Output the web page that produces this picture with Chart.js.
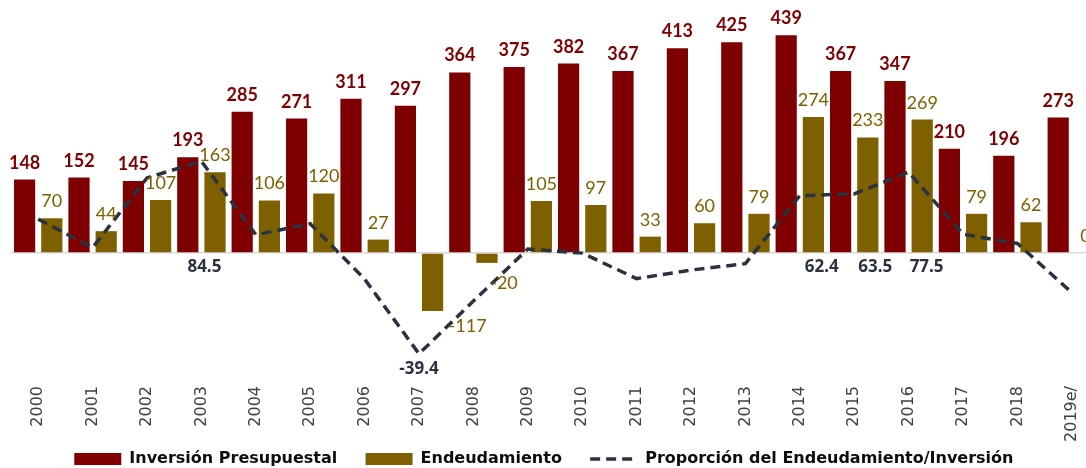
<!DOCTYPE html>
<html>
<head>
<meta charset="utf-8">
<script src="https://cdn.jsdelivr.net/npm/chart.js@4.4.1/dist/chart.umd.min.js"></script>
<style>
  html, body { margin: 0; padding: 0; background: #ffffff; overflow: hidden; }
  #wrap { position: relative; width: 1110px; height: 477px; }
</style>
</head>
<body>
<div id="wrap"><canvas id="c"></canvas></div>
<script>
const categories = ['2000','2001','2002','2003','2004','2005','2006','2007','2008','2009','2010','2011','2012','2013','2014','2015','2016','2017','2018','2019e/'];
const inversion = [148,152,145,193,285,271,311,297,364,375,382,367,413,425,439,367,347,210,196,273];
const endeudamiento = [70,44,107,163,106,120,27,-117,-20,105,97,33,60,79,274,233,269,79,62,0];
const proporcion = [47.3,28.9,73.8,84.5,37.2,44.3,8.7,-39.4,-5.5,28.0,25.4,9.0,14.5,18.6,62.4,63.5,77.5,37.6,31.6,0.0];
const proporcionShown = [3,7,14,15,16];
const seriesNames = ['Inversión Presupuestal', 'Endeudamiento', 'Proporción del Endeudamiento/Inversión'];

const RED = '#7f0000';
const OLIVE = '#7f6000';
const LINE = '#2a3240';

const labelPlugin = {
  id: 'valueLabels',
  afterDatasetsDraw(chart, args, opts) {
    const ctx = chart.ctx;
    const zeroY = chart.scales.y.getPixelForValue(0);
    ctx.save();
    [0, 1].forEach(di => {
      const meta = chart.getDatasetMeta(di);
      const ds = chart.data.datasets[di];
      ctx.font = opts.barFonts[di];
      ctx.fillStyle = ds.backgroundColor;
      ctx.textAlign = 'center';
      ctx.textBaseline = 'alphabetic';
      meta.data.forEach((bar, i) => {
        const v = ds.data[i];
        const off = (opts.barOffsets[di] && opts.barOffsets[di][i]) || [0, 0];
        const y = v >= 0 ? bar.y - 11 + off[1] : bar.y + 24 + off[1];
        ctx.fillText(String(v), bar.x + off[0], y);
      });
    });
    const lm = chart.getDatasetMeta(2);
    const lds = chart.data.datasets[2];
    ctx.font = opts.lineFont;
    ctx.fillStyle = LINE;
    ctx.textBaseline = 'middle';
    proporcionShown.forEach(i => {
      const pt = lm.data[i];
      const v = lds.data[i];
      const dx = opts.lineDx[i] || 0;
      const y = v >= 0 ? zeroY + 14 : pt.y + 15;
      ctx.fillText(v.toFixed(1), pt.x + dx, y);
    });
    ctx.restore();
  }
};

new Chart(document.getElementById('c'), {
  data: {
    labels: categories,
    datasets: [
      { type: 'bar', label: seriesNames[0], data: inversion, backgroundColor: RED, borderWidth: 0, order: 2, yAxisID: 'y' },
      { type: 'bar', label: seriesNames[1], data: endeudamiento, backgroundColor: OLIVE, borderWidth: 0, order: 3, yAxisID: 'y' },
      { type: 'line', label: seriesNames[2], data: proporcion, borderColor: LINE, backgroundColor: 'transparent', borderWidth: 3.5, borderDash: [10, 6], pointRadius: 0, tension: 0, order: 0, yAxisID: 'y2' }
    ]
  },
  options: {
    responsive: true,
    maintainAspectRatio: false,
    animation: false,
    layout: { padding: { left: 11, right: 11, top: 0, bottom: 0 } },
    datasets: { bar: { categoryPercentage: 1.0, barPercentage: 0.78 } },
    scales: {
      x: {
        grid: { display: false, drawTicks: false },
        border: { display: false },
        ticks: { minRotation: 90, maxRotation: 90, padding: 3, color: '#404040', font: { family: 'DejaVu Sans', size: 16 } },
        afterFit(scale) { scale.height = 62; }
      },
      y: {
        min: -262.2, max: 510.2,
        ticks: { display: false },
        grid: { drawTicks: false, lineWidth: 1.5, color: c => (c.tick && c.tick.value === 0) ? '#d9d9d9' : 'transparent' },
        border: { display: false }
      },
      y2: { display: false, min: -58.2, max: 188.3 }
    },
    plugins: {
      tooltip: { enabled: false },
      legend: {
        position: 'bottom',
        labels: {
          usePointStyle: true,
          pointStyleWidth: 47,
          boxHeight: 12,
          padding: 6,
          color: '#0d0d0d',
          font: { family: 'DejaVu Sans', size: 16, weight: 'bold' },
          sort: (a, b) => a.datasetIndex - b.datasetIndex,
          generateLabels(chart) {
            const items = Chart.defaults.plugins.legend.labels.generateLabels(chart);
            items.forEach(it => {
              const ds = chart.data.datasets[it.datasetIndex];
              it.text = it.text + '\u00a0\u00a0\u00a0\u00a0';
              if (ds.type === 'line') {
                it.pointStyle = 'line';
                it.lineDash = [10, 6];
                it.lineWidth = 3.5;
                it.strokeStyle = LINE;
                it.fillStyle = LINE;
              } else {
                it.pointStyle = 'rect';
                it.lineWidth = 0;
                it.fillStyle = ds.backgroundColor;
                it.strokeStyle = ds.backgroundColor;
              }
            });
            return items;
          }
        }
      },
      valueLabels: {
        barFonts: ['bold 18px Lato', '18px Lato'],
        barOffsets: [null, { 7: [35, -3], 8: [17, 2] }],
        lineFont: 'bold 17px "Noto Sans"',
        lineDx: { 3: 3, 7: 0, 14: 22, 15: 21, 16: 18 }
      }
    }
  },
  plugins: [labelPlugin]
});
</script>
</body>
</html>
